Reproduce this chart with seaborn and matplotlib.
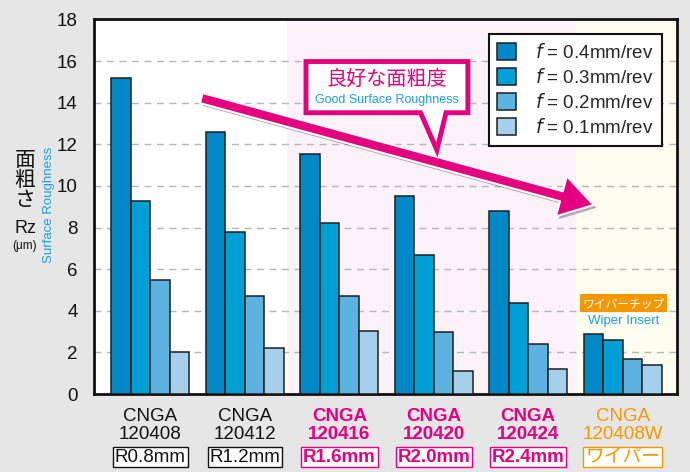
import matplotlib
matplotlib.use("Agg")
import matplotlib.pyplot as plt
import matplotlib.patheffects as pe
from matplotlib.patches import FancyArrowPatch, Polygon
from matplotlib.transforms import blended_transform_factory
import seaborn as sns
import pandas as pd

# ---- data ----
models = ["CNGA\n120408", "CNGA\n120412", "CNGA\n120416", "CNGA\n120420", "CNGA\n120424", "CNGA\n120408W"]
radius = ["R0.8mm", "R1.2mm", "R1.6mm", "R2.0mm", "R2.4mm", "ワイパー"]
feeds = ["f = 0.4mm/rev", "f = 0.3mm/rev", "f = 0.2mm/rev", "f = 0.1mm/rev"]
rz_f04 = [15.2, 12.6, 11.55, 9.5, 8.8, 2.9]
rz_f03 = [9.3, 7.8, 8.2, 6.7, 4.4, 2.6]
rz_f02 = [5.5, 4.7, 4.7, 3.0, 2.4, 1.7]
rz_f01 = [2.0, 2.2, 3.05, 1.1, 1.2, 1.4]
yticks = [0, 2, 4, 6, 8, 10, 12, 14, 16, 18]

rows = []
for fname, vals in zip(feeds, [rz_f04, rz_f03, rz_f02, rz_f01]):
    for m, v in zip(models, vals):
        rows.append({"model": m, "feed": fname, "rz": v})
df = pd.DataFrame(rows)

PINK = "#e4007f"
ORANGE = "#f39800"
BLUE_TXT = "#1a9fe0"
bar_colors = ["#0089c6", "#00a0d6", "#5cb3df", "#a4d0eb"]

sns.set_theme(style="white")
plt.rcParams["font.family"] = ["Liberation Sans", "Noto Sans CJK JP", "DejaVu Sans"]

fig = plt.figure(figsize=(6.9, 4.72), dpi=100, facecolor="#e6e6e6")
ax = fig.add_axes([0.1367, 0.165, 0.844, 0.7937])
ax.set_facecolor("white")

# background zones
ax.axvspan(1.446, 4.51, color="#fdf2f7", zorder=0, lw=0)
ax.axvspan(4.51, 6.0, color="#fefdf0", zorder=0, lw=0)

sns.barplot(data=df, x="model", y="rz", hue="feed", order=models, hue_order=feeds,
            palette=bar_colors, saturation=1, width=0.825, edgecolor="#1e1e1e",
            linewidth=1.1, ax=ax, zorder=3)

ax.set_xlim(-0.594, 5.572)
ax.set_ylim(0, 18)
ax.set_yticks(yticks)
ax.set_yticklabels([str(t) for t in yticks], fontsize=13.5, color="#111")
ax.tick_params(axis="y", length=0, pad=12)
ax.set_xticks(range(len(models)))
ax.set_xticklabels([""] * len(models))
ax.tick_params(axis="x", length=0)
ax.set_xlabel("")
ax.set_ylabel("")
for y in yticks[1:-1]:
    ax.axhline(y, color="#b5b5b5", lw=1.0, ls=(0, (5, 4)), zorder=1)
for s in ax.spines.values():
    s.set_color("#111")
    s.set_linewidth(2)

# legend
handles, labels = ax.get_legend_handles_labels()
leg_labels = ["$f$ = 0.4mm/rev", "$f$ = 0.3mm/rev", "$f$ = 0.2mm/rev", "$f$ = 0.1mm/rev"]
leg = ax.legend(handles, leg_labels, loc="upper right", bbox_to_anchor=(0.974, 0.961),
                borderaxespad=0, fontsize=13.5, frameon=True, fancybox=False,
                edgecolor="#111", framealpha=1, handlelength=1.0, handleheight=1.0,
                handletextpad=1.0, borderpad=0.45, labelspacing=0.33)
leg.get_frame().set_linewidth(1.5)
leg.set_zorder(10)

# x labels (three lines)
tr = blended_transform_factory(ax.transData, ax.transAxes)
for i, (m, r) in enumerate(zip(models, radius)):
    if i < 2:
        col, wt = "#111", "normal"
    elif i < 5:
        col, wt = PINK, "bold"
    else:
        col, wt = ORANGE, "normal"
    l1, l2 = m.split("\n")
    ax.text(i, -0.061, l1, transform=tr, ha="center", va="center", fontsize=13.5,
            color=col, fontweight=wt, clip_on=False)
    ax.text(i, -0.107, l2, transform=tr, ha="center", va="center", fontsize=13.5,
            color=col, fontweight=wt, clip_on=False)
    ax.text(i, -0.168, r, transform=tr, ha="center", va="center", fontsize=13.5,
            color=col, fontweight=wt, clip_on=False,
            bbox=dict(boxstyle="square,pad=0.1", fc="white", ec=col, lw=1.0))

# y label
fig.text(25 / 690, 1 - 180 / 472, "面\n粗\nさ", ha="center", va="center", fontsize=15,
         family=["Noto Sans CJK JP"], linespacing=0.88, color="#111")
fig.text(25 / 690, 1 - 229 / 472, "Rz", ha="center", va="center", fontsize=13, color="#111")
fig.text(25 / 690, 1 - 246 / 472, "(μm)", ha="center", va="center", fontsize=8.5, color="#111")
fig.text(49 / 690, 1 - 205 / 472, "Surface Roughness", ha="center", va="center",
         rotation=90, fontsize=9.5, color=BLUE_TXT)

# big arrow
arrow = FancyArrowPatch((0.51, 14.26), (4.72, 9.05),
                        arrowstyle="simple,head_length=24,head_width=30,tail_width=7.5",
                        mutation_scale=1, fc=PINK, ec="white", lw=1.5, zorder=6,
                        path_effects=[pe.withSimplePatchShadow(offset=(2, -2), alpha=0.35)])
ax.add_patch(arrow)

# callout box
x0, x1, y0, y1 = 1.647, 3.361, 13.52, 15.98
callout = Polygon([(x0, y0), (2.86, y0), (3.033, 11.73), (3.13, y0), (x1, y0), (x1, y1), (x0, y1)],
                  closed=True, fc="white", ec=PINK, lw=3.5, zorder=7, joinstyle="miter")
ax.add_patch(callout)
ax.text(2.503, 15.12, "良好な面粗度", ha="center", va="center", fontsize=14.5, color=PINK,
        family=["Noto Sans CJK JP"], zorder=8)
ax.text(2.503, 14.12, "Good Surface Roughness", ha="center", va="center", fontsize=9,
        color=BLUE_TXT, zorder=8)

# wiper label
ax.text(5.006, 4.37, "ワイパーチップ", ha="center", va="center", fontsize=8.5, color="white",
        family=["Noto Sans CJK JP"], zorder=8,
        bbox=dict(boxstyle="square,pad=0.2", fc=ORANGE, ec="none"))
ax.text(5.006, 3.53, "Wiper Insert", ha="center", va="center", fontsize=9.5,
        color=BLUE_TXT, zorder=8)

fig.savefig("out.png", dpi=100, facecolor=fig.get_facecolor())
